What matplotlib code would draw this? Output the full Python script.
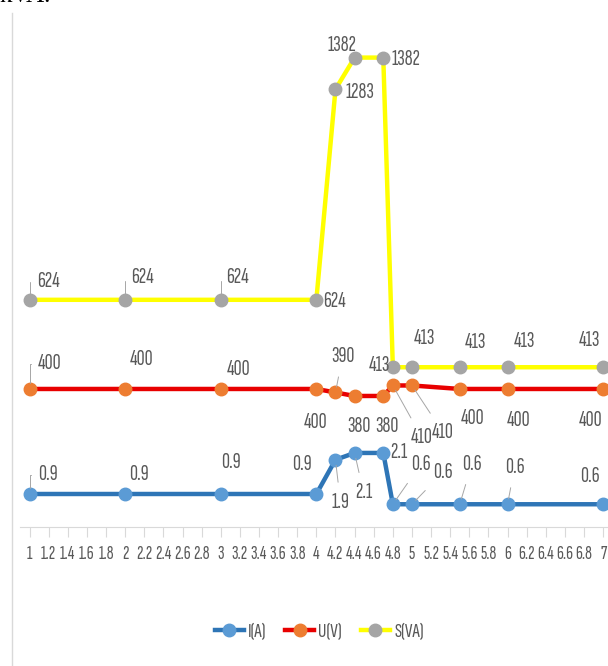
import numpy as np
import matplotlib
matplotlib.use("Agg")
import matplotlib.pyplot as plt
from matplotlib.lines import Line2D

plt.rcParams['font.family'] = ['Sofia Sans Extra Condensed', 'DejaVu Sans']
plt.rcParams['font.weight'] = 'light'

# data
x = [1, 2, 3, 4, 4.2, 4.4, 4.7, 4.8, 5, 5.5, 6, 7]
current = [0.9, 0.9, 0.9, 0.9, 1.9, 2.1, 2.1, 0.6, 0.6, 0.6, 0.6, 0.6]
voltage = [400, 400, 400, 400, 390, 380, 380, 410, 410, 400, 400, 400]
power = [624, 624, 624, 624, 1283, 1382, 1382, 413, 413, 413, 413, 413]
names = ['I(A)', 'U(V)', 'S(VA)']
ticks = [round(1 + 0.2 * i, 1) for i in range(31)]

# label offsets in pixels (dx, dy up) and leader type: 0 none, 1 bracket, 2 straight
off_i = [(18, 19), (14, 19), (10, 31), (-14, 29), (5, -43), (9, -40), (16, 0),
         (28, 40), (31, 32), (12, 40), (7, 37), (-13, 28)]
lead_i = [1, 0, 0, 0, 2, 2, 0, 2, 2, 2, 2, 0]
off_u = [(20, 25), (16, 29), (18, 19), (-1, -34), (7, 36), (4, -31), (4, -31),
         (29, -52), (31, -47), (13, -30), (11, -32), (-13, -32)]
lead_u = [1, 0, 0, 0, 2, 0, 0, 2, 2, 0, 0, 0]
off_s = [(19, 18), (17, 22), (17, 22), (18, -2), (24, -3), (-13, 12), (23, -2),
         (-13, 2), (13, 29), (16, 25), (17, 26), (-14, 27)]
lead_s = [1, 1, 1, 0, 0, 0, 0, 0, 0, 0, 0, 0]

TXT = '#595959'
fig = plt.figure(figsize=(6.08, 6.66), dpi=100)
ax = fig.add_axes([0.0329, 0.2087, 0.967, 0.7718])
ax_u = ax.twinx()
ax_s = ax.twinx()

ax.set_xlim(0.9, 7.05)
ax.set_ylim(-0.065, 14.96)
ax_u.set_ylim(5.7, 1474)
ax_s.set_ylim(-87, 1521.6)

series = [
    (ax, current, '#2e75b6', '#5b9bd5', off_i, lead_i),
    (ax_u, voltage, '#e80000', '#ed7d31', off_u, lead_u),
    (ax_s, power, '#ffff00', '#a5a5a5', off_s, lead_s),
]
handles = []
for a, vals, lc, mc, offs, leads in series:
    h, = a.plot(x, vals, color=lc, lw=3.2, marker='o', ms=9,
                mfc=mc, mec=mc, solid_joinstyle='round')
    handles.append(h)
    for xi, v, (dx, dy), ld in zip(x, vals, offs, leads):
        lbl = f'{v:g}'
        ap = None
        if ld == 1:
            ap = dict(arrowstyle='-', color='#a6a6a6', lw=0.7, shrinkA=3, shrinkB=4,
                      connectionstyle='angle,angleA=0,angleB=90,rad=0')
        elif ld == 2:
            ap = dict(arrowstyle='-', color='#a6a6a6', lw=0.7, shrinkA=6, shrinkB=4)
        a.annotate(lbl, (xi, v), xytext=(dx, dy), textcoords='offset pixels',
                   ha='center', va='center', fontsize=16, color=TXT, arrowprops=ap)

for a in (ax, ax_u, ax_s):
    for sp in ['top', 'left', 'right']:
        a.spines[sp].set_visible(False)
    a.set_yticks([])
ax_u.spines['bottom'].set_visible(False)
ax_s.spines['bottom'].set_visible(False)
ax.spines['bottom'].set_color('#d9d9d9')

ax.set_xticks(ticks)
ax.set_xticklabels([f'{t:g}' for t in ticks])
ax.tick_params(axis='x', length=7, color='#d9d9d9', labelsize=14,
               labelcolor=TXT, pad=6)

fig.legend(handles, names, loc='center', bbox_to_anchor=(0.525, 0.051), ncol=3,
           frameon=False, handlelength=1.4, columnspacing=0.9, handletextpad=0.2,
           fontsize=15, labelcolor=TXT)

# chart area border and cut-off text above it
fig.add_artist(Line2D([0.02, 0.02], [0, 0.98], color='#d9d9d9', lw=1))
fig.text(0.0, 1.006, 'kVA.', family='Liberation Serif', fontsize=18,
         va='center', ha='left', color='black')

fig.savefig('out.png', dpi=100)
